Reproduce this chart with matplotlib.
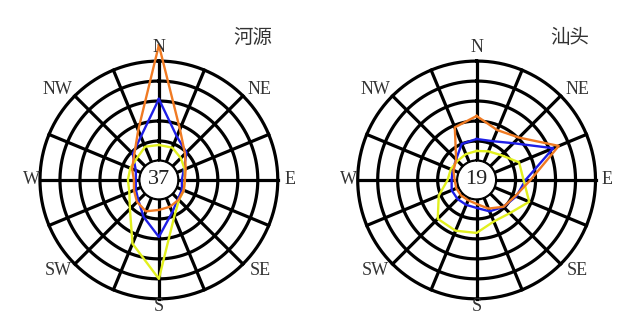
import numpy as np
import matplotlib.pyplot as plt

# 16 wind directions, clockwise from N
dirs = ['N', 'NNE', 'NE', 'ENE', 'E', 'ESE', 'SE', 'SSE',
        'S', 'SSW', 'SW', 'WSW', 'W', 'WNW', 'NW', 'NNW']

# values in ring units (inner calm circle = 0, outer ring = 5)
heyuan_orange = [5.8, 1.8, 0.9, 0.5, 0.35, 0.4, 0.45, 0.5, 0.55, 0.75, 0.6, 0.4, 0.3, 0.5, 0.8, 1.75]
heyuan_blue = [3.1, 1.4, 1.0, 0.4, 0.2, 0.3, 0.4, 0.8, 1.9, 1.05, 0.5, 0.3, 0.2, 0.3, 0.9, 1.4]
heyuan_yellow = [0.8, 0.8, 0.6, 0.45, 0.35, 0.4, 0.47, 1.05, 4.0, 2.5, 1.1, 0.65, 0.6, 0.6, 0.6, 0.85]

shantou_orange = [2.25, 1.75, 2.05, 3.5, 1.75, 1.15, 0.95, 0.6, 0.25, 0.15, 0.15, 0.15, 0.15, 0.3, 0.5, 1.9]
shantou_blue = [1.1, 1.15, 1.65, 3.2, 1.5, 1.2, 0.95, 0.75, 0.45, 0.4, 0.4, 0.4, 0.3, 0.35, 0.5, 1.0]
shantou_yellow = [0.5, 0.6, 0.8, 1.35, 1.4, 1.9, 1.4, 1.3, 1.7, 1.8, 1.8, 1.1, 0.5, 0.45, 0.4, 0.45]

calm = {'河源': 37, '汕头': 19}

labels = ['N', 'NE', 'E', 'SE', 'S', 'SW', 'W', 'NW']
label_ang = [0, 48, 90, 132, 180, 228, 270, 312]
label_r = [5.68, 5.85, 5.6, 5.85, 5.38, 5.85, 5.45, 5.85]

ORANGE = '#F07A22'
BLUE = '#1E1EE6'
YELLOW = '#E2F01E'

fig = plt.figure(figsize=(6.4, 3.26), dpi=100)
fig.patch.set_facecolor('white')

theta = np.deg2rad(np.arange(16) * 22.5)
tt = np.linspace(0, 2 * np.pi, 400)


def rose(ax, name, series):
    ax.set_theta_zero_location('N')
    ax.set_theta_direction(-1)
    ax.set_ylim(0, 6)
    ax.set_rorigin(-0.95)
    ax.grid(False)
    ax.set_xticks([])
    ax.set_yticks([])
    for s in ax.spines.values():
        s.set_visible(False)
    ax.patch.set_alpha(0)

    # rings and spokes
    for r in range(6):
        ax.plot(tt, np.full_like(tt, r), color='black', lw=2.3, zorder=1)
    for th in theta:
        ax.plot([th, th], [0, 5], color='black', lw=2.3, zorder=1)

    for vals, c in series:
        v = list(vals) + [vals[0]]
        t = list(theta) + [theta[0]]
        ax.plot(t, v, color=c, lw=1.7, zorder=3, clip_on=False)

    for lab, a, r in zip(labels, label_ang, label_r):
        ax.text(np.deg2rad(a), r, lab, ha='center', va='center',
                fontsize=13, family='Liberation Serif', color='#333333')

    ax.text(0.5, 0.5, str(calm[name]), transform=ax.transAxes,
            ha='center', va='center', fontsize=16,
            family='Liberation Serif', color='#222222', zorder=4)


ax1 = fig.add_axes([0.03125, 0.0215, 0.434, 0.853], projection='polar')
rose(ax1, '河源', [(heyuan_blue, BLUE), (heyuan_yellow, YELLOW), (heyuan_orange, ORANGE)])

ax2 = fig.add_axes([0.5277, 0.0215, 0.434, 0.853], projection='polar')
rose(ax2, '汕头', [(shantou_blue, BLUE), (shantou_yellow, YELLOW), (shantou_orange, ORANGE)])

fig.text(0.3945, 0.885, '河源', ha='center', va='center', fontsize=14,
         family=['Noto Sans CJK SC', 'DejaVu Sans'], color='#333333')
fig.text(0.8906, 0.885, '汕头', ha='center', va='center', fontsize=14,
         family=['Noto Sans CJK SC', 'DejaVu Sans'], color='#333333')

fig.savefig('out.png', dpi=100, facecolor='white')
